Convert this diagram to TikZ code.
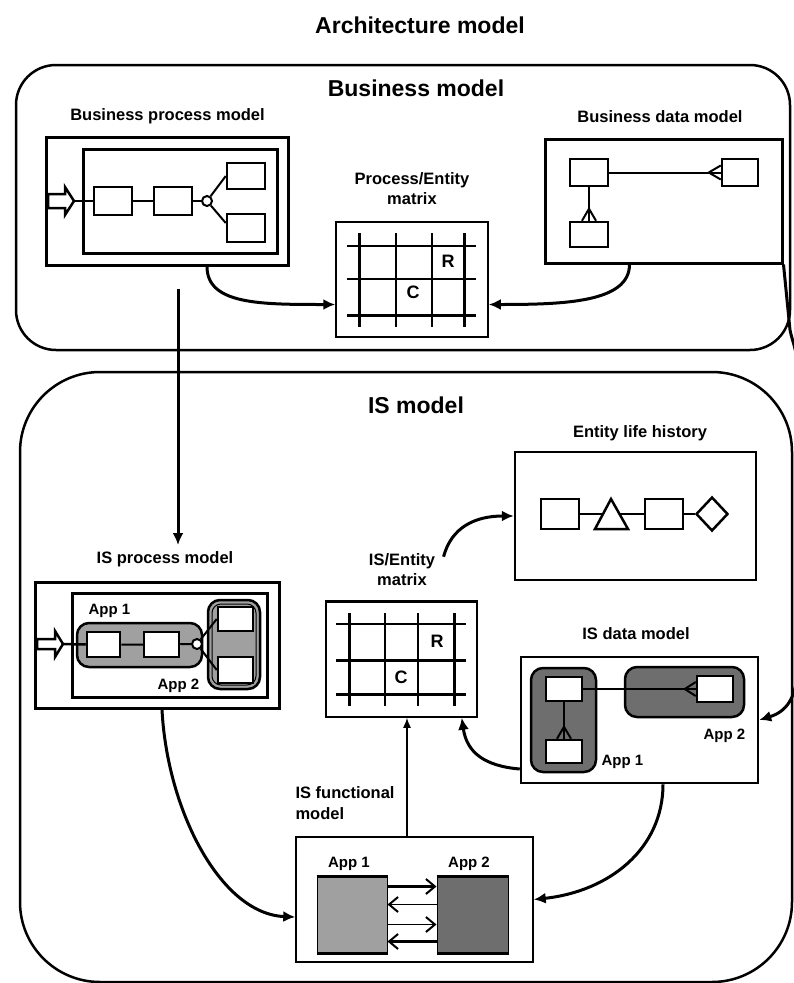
\documentclass[tikz,border=0pt]{standalone}
\usepackage{fontspec}
\setmainfont{Liberation Sans}
\usetikzlibrary{arrows.meta,calc,shapes.geometric}
\definecolor{lgray}{HTML}{A0A0A0}
\definecolor{dgray}{HTML}{6E6E6E}
\begin{document}
\begin{tikzpicture}[x=1pt,y=-1pt,
  wbox/.style={draw, inner sep=0pt, fill=white},
  thickbox/.style={wbox, line width=3pt},
  entbox/.style={wbox, line width=2.5pt},
  thinbox/.style={wbox, line width=1.5pt},
  circ/.style={draw, circle, fill=white, line width=2pt, minimum size=10pt, inner sep=0pt},
  headtxt/.style={font=\fontsize{23}{27}\selectfont\bfseries},
  labtxt/.style={font=\fontsize{16.5}{20}\selectfont\bfseries},
  apptxt/.style={font=\fontsize{15}{18}\selectfont\bfseries},
  lettxt/.style={font=\fontsize{18}{20}\selectfont\bfseries},
  bigframe/.style={draw, line width=2.5pt, inner sep=0pt},
  conn/.style={line width=3pt, -{Latex[length=12pt,width=11pt]}},
  barbarrow/.style={-{Straight Barb[length=9pt,width=15pt,line width=2pt]}},
  applt/.style={draw, line width=2.5pt, rounded corners=12pt, fill=lgray, inner sep=0pt},
  appdk/.style={draw, line width=2.5pt, rounded corners=12pt, fill=dgray, inner sep=0pt},
  thickln/.style={line width=3pt},
  thinln/.style={line width=1.5pt},
  midln/.style={line width=2pt}
]
\useasboundingbox (0,0) rectangle (793,983);

% ---------- frames ----------
\node[bigframe, rounded corners=40pt, minimum width=774pt, minimum height=285pt] (bframe) at (403,207.5) {};
\node[bigframe, rounded corners=80pt, minimum width=772pt, minimum height=610pt] (isframe) at (406,677) {};

% ---------- titles ----------
\node[headtxt, anchor=base] (title) at (420,33) {Architecture model};
\node[headtxt, anchor=base] (bmtitle) at (416,96) {Business model};
\node[headtxt, anchor=base] (istitle) at (416,413) {IS model};

% ---------- Business process model ----------
\node[labtxt, anchor=base] (bpmlab) at (167.5,120) {Business process model};
\node[thickbox, minimum width=242pt, minimum height=128pt] (bpm) at (167,201) {};
\node[thickbox, minimum width=194pt, minimum height=104pt] (bpmin) at (180,201) {};
\node[entbox, minimum width=38pt, minimum height=28pt] (p1) at (113,201) {};
\node[entbox, minimum width=38pt, minimum height=28pt] (p2) at (173,201) {};
\node[circ] (pc) at (207,201) {};
\node[entbox, minimum width=38pt, minimum height=26pt] (p3) at (246,176) {};
\node[entbox, minimum width=38pt, minimum height=28pt] (p4) at (246,228) {};
\draw[thinln] (p1) -- (p2) (p2) -- (pc);
\draw[midln] (pc) -- (p3.west) (pc) -- ($(p4.west)+(0,-5)$);
\draw[line width=2.5pt, fill=white] (48,194) -- (65,194) -- (65,187) -- (74,201) -- (65,215) -- (65,208) -- (48,208) -- cycle;
\coordinate (bin) at (74,201);
\draw[thinln] (bin) -- (p1.west);

% ---------- Process/Entity matrix ----------
\node[labtxt, anchor=base] (pelab1) at (412,184) {Process/Entity};
\node[labtxt, anchor=base] (pelab2) at (412,204) {matrix};
\node[thinbox, minimum width=152pt, minimum height=115pt] (pem) at (412,279.5) {};
\draw[thickln] (359,233) -- (359,327) (464,233) -- (464,327) (347,315) -- (476,315);
\draw[thinln] (396,233) -- (396,327) (432,233) -- (432,327) (347,246) -- (476,246) (347,279) -- (476,279);
\node[lettxt, anchor=base] (per) at (448,267) {R};
\node[lettxt, anchor=base] (pec) at (413,298) {C};

% ---------- Business data model ----------
\node[labtxt, anchor=base] (bdmlab) at (660,122) {Business data model};
\node[thickbox, minimum width=237pt, minimum height=124pt] (bdm) at (663.5,201) {};
\node[entbox, minimum width=38pt, minimum height=27pt] (ea) at (589,172.5) {};
\node[entbox, minimum width=36pt, minimum height=27pt] (eb) at (740,172.5) {};
\node[entbox, minimum width=38pt, minimum height=25pt] (ec) at (589,234.5) {};
\draw[midln] (ea) -- (eb) (ea) -- (ec);
\draw[midln] ($(eb.west)+(-12,0)$) -- ($(eb.west)+(0,-7)$) ($(eb.west)+(-12,0)$) -- ($(eb.west)+(0,7)$);
\draw[midln] ($(ec.north)+(0,-12)$) -- ($(ec.north)+(-7,0)$) ($(ec.north)+(0,-12)$) -- ($(ec.north)+(7,0)$);

% ---------- business connectors ----------
\draw[conn] ($(bpm.south)+(40,0)$) .. controls +(0,38) and +(-75,0) .. ($(pem.west)+(0,25)$);
\draw[conn] ($(bdm.south)+(-34,0)$) .. controls +(0,38) and +(75,0) .. ($(pem.east)+(0,25)$);
\coordinate (vtop) at ($(bpm.south)+(11,22)$);
\coordinate (vbot) at (178,545);
\draw[conn] (vtop) -- (vbot);

% ---------- Entity life history ----------
\node[labtxt, anchor=base] (elhlab) at (640,437) {Entity life history};
\node[entbox, minimum width=241pt, minimum height=128pt] (elh) at (635.5,516) {};
\node[entbox, minimum width=38pt, minimum height=30pt] (l1) at (560,514) {};
\draw[line width=2.5pt, line join=miter] (595,529) -- (611,499) -- (628,529) -- cycle;
\coordinate (tl) at (603,514);
\coordinate (tr) at (619.5,514);
\node[entbox, minimum width=38pt, minimum height=30pt] (l2) at (664,514) {};
\node[draw, diamond, line width=2.5pt, fill=white, minimum width=32pt, minimum height=34pt, inner sep=0pt] (ld) at (712,514) {};
\draw[thinln] (l1.east) -- (tl) (tr) -- (l2.west) (l2.east) -- (ld.west);

% ---------- IS process model ----------
\node[labtxt, anchor=base] (ispmlab) at (165,563) {IS process model};
\node[thickbox, minimum width=244pt, minimum height=126pt] (ispm) at (157,645) {};
\node[thickbox, minimum width=195pt, minimum height=104pt] (ispmin) at (169.5,645) {};
\node[applt, minimum width=125pt, minimum height=44pt] (pa1) at (139.5,645) {};
\node[applt, minimum width=52pt, minimum height=89pt] (pa2) at (234,644.5) {};
\node[draw, line width=1pt, rounded corners=9pt, minimum width=44pt, minimum height=81pt, inner sep=0pt] (pa2in) at (234,644.5) {};
\node[entbox, minimum width=33pt, minimum height=25pt] (q1) at (103.5,644.5) {};
\node[entbox, minimum width=35pt, minimum height=25pt] (q2) at (161.5,644.5) {};
\node[circ] (qc) at (197,644) {};
\node[entbox, minimum width=35pt, minimum height=24pt] (q3) at (235.5,619) {};
\node[entbox, minimum width=35pt, minimum height=26pt] (q4) at (235.5,670) {};
\draw[midln] (q1) -- (q2) (q2) -- (qc);
\draw[midln] (qc) -- (q3.west) (qc) -- (q4.west);
\draw[line width=2.5pt, fill=white] (37,639) -- (55,639) -- (55,631) -- (63,644) -- (55,657) -- (55,649) -- (37,649) -- cycle;
\coordinate (qin) at (63,644);
\draw[line width=2.5pt] (qin) -- (q1.west);
\node[apptxt, anchor=base west] (pa1lab) at (85,614) {App 1};
\node[apptxt, anchor=base west] (pa2lab) at (154,689) {App 2};

% ---------- IS/Entity matrix ----------
\node[labtxt, anchor=base] (ise1) at (402,565) {IS/Entity};
\node[labtxt, anchor=base] (ise2) at (402,585) {matrix};
\node[thinbox, minimum width=151pt, minimum height=115pt] (isem) at (401.5,659.5) {};
\draw[thickln] (isem.north west) -- (isem.north east);
\draw[thickln] (349,613) -- (349,706) (454,613) -- (454,706) (336,660) -- (466,660) (336,694) -- (466,694);
\draw[thinln] (385,613) -- (385,706) (418,613) -- (418,706) (336,624) -- (466,624);
\node[lettxt, anchor=base] (iser) at (437,647) {R};
\node[lettxt, anchor=base] (isec) at (401,683) {C};
\draw[conn] ($(ise1.east)+(5,-4)$) .. controls +(8,-30) and +(-38,0) .. (elh.west);

% ---------- IS data model ----------
\node[labtxt, anchor=base] (isdmlab) at (636,639) {IS data model};
\node[entbox, minimum width=237pt, minimum height=126pt] (isdm) at (639.5,720) {};
\node[appdk, minimum width=65pt, minimum height=104pt] (da1) at (563.5,720) {};
\node[appdk, minimum width=119pt, minimum height=50pt] (da2) at (684.5,692) {};
\node[entbox, minimum width=36pt, minimum height=24pt] (ia) at (564,689) {};
\node[entbox, minimum width=36pt, minimum height=26pt] (ib) at (715,689) {};
\node[entbox, minimum width=36pt, minimum height=23pt] (ic) at (564,751.5) {};
\draw[midln] (ia) -- (ib) (ia) -- (ic);
\draw[midln] ($(ib.west)+(-11,0)$) -- ($(ib.west)+(0,-7)$) ($(ib.west)+(-11,0)$) -- ($(ib.west)+(0,7)$);
\draw[midln] ($(ic.north)+(0,-12)$) -- ($(ic.north)+(-7,0)$) ($(ic.north)+(0,-12)$) -- ($(ic.north)+(7,0)$);
\node[apptxt, anchor=base west] (da2lab) at (700,739) {App 2};
\node[apptxt, anchor=base west] (da1lab) at (598,765) {App 1};

% ---------- IS functional model ----------
\node[labtxt, anchor=base west] (flab1) at (292,798) {IS functional};
\node[labtxt, anchor=base west] (flab2) at (292,819) {model};
\node[thinbox, minimum width=237pt, minimum height=125pt] (func) at (414.5,899.5) {};
\node[apptxt, anchor=base] (fa1lab) at (349,867) {App 1};
\node[apptxt, anchor=base] (fa2lab) at (469,867) {App 2};
\node[draw, line width=1pt, fill=lgray, minimum width=70pt, minimum height=76pt, inner sep=0pt] (fa1) at (352,915) {};
\node[draw, line width=1pt, fill=dgray, minimum width=71pt, minimum height=76pt, inner sep=0pt] (fa2) at (472.5,915) {};
\draw[thickln] (fa1.north west) -- (fa1.north east) (fa1.south west) -- (fa1.south east);
\draw[thickln] (fa2.north west) -- (fa2.north east) (fa2.south west) -- (fa2.south east);
\draw[barbarrow, line width=2.5pt] ($(fa1.north east)+(0,10)$) -- ($(fa2.north west)+(0,10)$);
\draw[barbarrow, line width=1.5pt] ($(fa2.north west)+(0,28)$) -- ($(fa1.north east)+(0,28)$);
\draw[barbarrow, line width=1.5pt] ($(fa1.north east)+(0,48)$) -- ($(fa2.north west)+(0,48)$);
\draw[barbarrow, line width=2.5pt] ($(fa2.north west)+(0,65)$) -- ($(fa1.north east)+(0,65)$);

% ---------- IS connectors ----------
\draw[conn] ($(ispm.south)+(5,0)$) .. controls +(5,100) and +(-75,-3) .. ($(func.west)+(0,17.5)$);
\draw[conn] ($(isdm.south)+(23.5,0)$) .. controls +(0,65) and +(75,-8) .. (func.east);
\draw[line width=1.5pt, -{Latex[length=10pt,width=8pt]}] ($(func.north)+(-7.5,0)$) -- ($(isem.south)+(5.5,0)$);
\draw[conn] ($(isdm.west)+(0,49)$) .. controls +(-35,-3) and +(5,35) .. ($(isem.south east)+(-16,0)$);
\draw[conn] (bdm.south east) -- (790,330) .. controls (793,345) and (798,350) .. (798,380) -- (798,660) .. controls (798,700) and (785,712) .. (isdm.east);
\end{tikzpicture}
\end{document}
